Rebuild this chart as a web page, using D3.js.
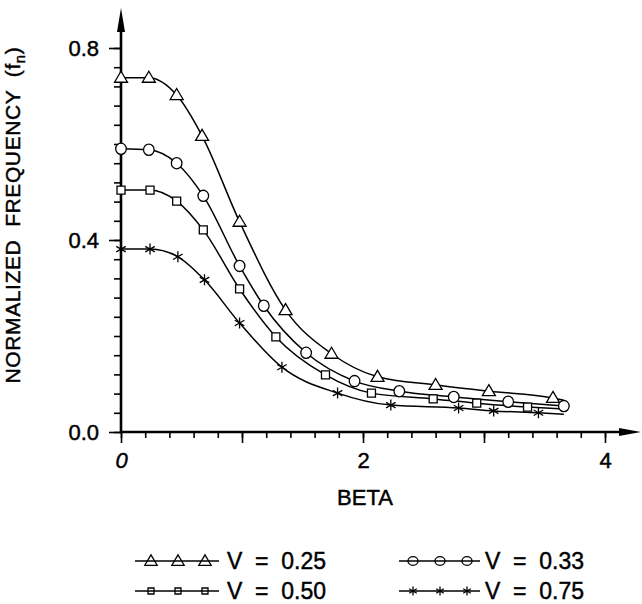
<!DOCTYPE html>
<html>
<head>
<meta charset="utf-8">
<script src="https://cdn.jsdelivr.net/npm/d3@7"></script>
<style>
  body { margin: 0; background: #fff; }
  svg { display: block; }
  text { font-family: "Liberation Sans", Arial, sans-serif; fill: #000; stroke: #000; stroke-width: 0.45px; }
</style>
</head>
<body>
<div id="chart"></div>
<script>
// values
const seriesLabels = ["V  =  0.25", "V  =  0.33", "V  =  0.50", "V  =  0.75"];
const seriesSymbols = ["triangle", "circle", "square", "star"];

const betaV025 = [0, 0.23, 0.46, 0.67, 0.98, 1.36, 1.74, 2.12, 2.60, 3.04, 3.57];
const fnV025   = [0.738, 0.738, 0.702, 0.617, 0.438, 0.254, 0.163, 0.115, 0.098, 0.085, 0.071];

const betaV033 = [0, 0.23, 0.46, 0.68, 0.98, 1.18, 1.53, 1.93, 2.30, 2.75, 3.20, 3.66];
const fnV033   = [0.590, 0.588, 0.560, 0.492, 0.346, 0.263, 0.165, 0.106, 0.085, 0.073, 0.063, 0.054];

const betaV050 = [0, 0.24, 0.46, 0.68, 0.98, 1.28, 1.69, 2.07, 2.58, 2.94, 3.36];
const fnV050   = [0.504, 0.504, 0.481, 0.421, 0.298, 0.198, 0.119, 0.081, 0.069, 0.060, 0.052];

const betaV075 = [0, 0.24, 0.47, 0.69, 0.98, 1.33, 1.79, 2.23, 2.79, 3.08, 3.45];
const fnV075   = [0.381, 0.381, 0.365, 0.317, 0.227, 0.135, 0.081, 0.056, 0.050, 0.044, 0.040];

// where the fitted curves stop
const curveEndBeta = 3.66;
const curveEndFn = [0.066, 0.054, 0.048, 0.037];

const xMajorTicks = [0, 1, 2, 3, 4];
const xTickLabels = { 0: "0", 2: "2", 4: "4" };
const yMajorTicks = [0, 0.4, 0.8];
const yTickLabels = ["0.0", "0.4", "0.8"];

const width = 642, height = 604;

const svg = d3.select("#chart").append("svg")
  .attr("width", width)
  .attr("height", height);

const x = d3.scaleLinear().domain([0, 4]).range([121, 605]);
const y = d3.scaleLinear().domain([0, 0.8]).range([432, 48]);

const series = [
  { beta: betaV025, fn: fnV025 },
  { beta: betaV033, fn: fnV033 },
  { beta: betaV050, fn: fnV050 },
  { beta: betaV075, fn: fnV075 }
].map((s, i) => {
  const pts = s.beta.map((b, j) => [b, s.fn[j]]);
  const linePts = pts.slice();
  if (pts[pts.length - 1][0] < curveEndBeta - 0.005) linePts.push([curveEndBeta, curveEndFn[i]]);
  return { points: pts, linePoints: linePts, symbol: seriesSymbols[i], label: seriesLabels[i] };
});

// marker shapes
function markerPath(type, s) {
  const p = d3.path();
  if (type === "triangle") {
    p.moveTo(0, -6.5 * s); p.lineTo(6.5 * s, 4.5 * s); p.lineTo(-6.5 * s, 4.5 * s); p.closePath();
  } else if (type === "square") {
    p.rect(-4 * s, -4 * s, 8 * s, 8 * s);
  } else if (type === "star") {
    const r = 5.5 * s;
    [90, 30, -30].forEach(a => {
      const t = a * Math.PI / 180;
      p.moveTo(-r * Math.cos(t), -r * Math.sin(t));
      p.lineTo(r * Math.cos(t), r * Math.sin(t));
    });
  }
  return p.toString();
}

function drawMarker(g, type, s, fill, rx, ry) {
  if (type === "circle") {
    g.append("ellipse").attr("rx", rx * s).attr("ry", ry * s)
      .attr("fill", fill).attr("stroke", "#000").attr("stroke-width", 1.3);
  } else {
    g.append("path").attr("d", markerPath(type, s))
      .attr("fill", type === "star" ? "none" : fill)
      .attr("stroke", "#000").attr("stroke-width", 1.3);
  }
}

// minor ticks x
svg.append("g")
  .attr("transform", `translate(0,${y(0)})`)
  .call(d3.axisBottom(x).tickValues(d3.range(0, 21).map(i => i * 0.2)).tickSize(6).tickFormat(""))
  .call(g => g.select(".domain").remove())
  .call(g => g.selectAll("line").attr("stroke", "#000").attr("stroke-width", 1.6));

// major ticks x
svg.append("g")
  .attr("transform", `translate(0,${y(0)})`)
  .call(d3.axisBottom(x).tickValues(xMajorTicks).tickSize(11).tickPadding(9)
    .tickFormat(d => xTickLabels[d] || ""))
  .call(g => g.select(".domain").remove())
  .call(g => g.selectAll("line").attr("stroke", "#000").attr("stroke-width", 1.6))
  .call(g => g.selectAll("text").attr("font-size", 22).attr("fill", "#000")
    .attr("font-style", d => d === 0 ? "italic" : null));

// minor ticks y
svg.append("g")
  .attr("transform", `translate(${x(0)},0)`)
  .call(d3.axisLeft(y).tickValues(d3.range(0, 21).map(i => i * 0.04)).tickSize(7).tickFormat(""))
  .call(g => g.select(".domain").remove())
  .call(g => g.selectAll("line").attr("stroke", "#000").attr("stroke-width", 1.6));

// major ticks y
svg.append("g")
  .attr("transform", `translate(${x(0)},0)`)
  .call(d3.axisLeft(y).tickValues(yMajorTicks).tickSize(12).tickPadding(10)
    .tickFormat((d, i) => yTickLabels[i]))
  .call(g => g.select(".domain").remove())
  .call(g => g.selectAll("line").attr("stroke", "#000").attr("stroke-width", 1.6))
  .call(g => g.selectAll("text").attr("font-size", 22).attr("fill", "#000"));

// axis lines with arrows
svg.append("line")
  .attr("x1", x(0)).attr("x2", 622).attr("y1", y(0)).attr("y2", y(0))
  .attr("stroke", "#000").attr("stroke-width", 2.6);
svg.append("path")
  .attr("d", `M641,${y(0)} L619,${y(0) - 4} L619,${y(0) + 4} Z`)
  .attr("fill", "#000");
svg.append("line")
  .attr("x1", x(0)).attr("x2", x(0)).attr("y1", y(0) + 1).attr("y2", 30)
  .attr("stroke", "#000").attr("stroke-width", 2.6);
svg.append("path")
  .attr("d", `M${x(0)},8 L${x(0) - 4},32 L${x(0) + 4},32 Z`)
  .attr("fill", "#000");

// curves
const line = d3.line()
  .x(d => x(d[0]))
  .y(d => y(d[1]))
  .curve(d3.curveMonotoneX);

svg.append("g").selectAll("path")
  .data(series)
  .join("path")
  .attr("d", d => line(d.linePoints))
  .attr("fill", "none")
  .attr("stroke", "#000")
  .attr("stroke-width", 1.5);

// markers
series.forEach(s => {
  svg.append("g").selectAll("g")
    .data(s.points)
    .join("g")
    .attr("transform", d => `translate(${x(d[0])},${y(d[1])})`)
    .each(function () { drawMarker(d3.select(this), s.symbol, 1, "#fff", 5.3, 5.6); });
});

// axis titles
svg.append("text")
  .attr("x", 365).attr("y", 505)
  .attr("text-anchor", "middle")
  .attr("font-size", 22)
  .text("BETA");

const yTitle = svg.append("text")
  .attr("transform", "translate(20,215) rotate(-90)")
  .attr("text-anchor", "middle")
  .attr("font-size", 21)
  .attr("letter-spacing", 0.6)
  .style("white-space", "pre");
yTitle.append("tspan").text("NORMALIZED  FREQUENCY  (f");
yTitle.append("tspan").attr("font-size", 15).attr("dy", 5).text("n");
yTitle.append("tspan").attr("dy", -5).text(")");

// legend
const legendCols = [{ x0: 135, x1: 219, marks: [151, 178, 205], tx: 227 },
                    { x0: 399, x1: 480, marks: [413, 440, 467], tx: 485 }];
const legendRows = [561, 591];
const legendScale = { triangle: 0.95, circle: 1, square: 0.75, star: 0.8 };

series.forEach((s, i) => {
  const col = legendCols[i % 2], row = legendRows[Math.floor(i / 2)];
  const g = svg.append("g").attr("class", "legend-item");
  g.append("line")
    .attr("x1", col.x0).attr("x2", col.x1).attr("y1", row).attr("y2", row)
    .attr("stroke", "#000").attr("stroke-width", 1.4);
  col.marks.forEach(mx => {
    const m = g.append("g").attr("transform", `translate(${mx},${row})`);
    drawMarker(m, s.symbol, legendScale[s.symbol], "none", 5, 4.3);
  });
  g.append("text")
    .attr("x", col.tx).attr("y", row + 8)
    .attr("font-size", 23)
    .style("white-space", "pre")
    .text(s.label);
});
</script>
</body>
</html>
